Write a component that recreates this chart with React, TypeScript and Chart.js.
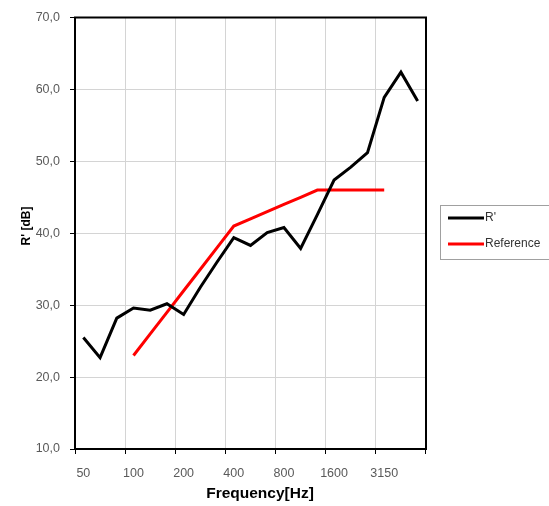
import React, { useEffect, useRef } from "react";
import { Chart, registerables } from "chart.js";

Chart.register(...registerables);

const frequencies = ["50", "63", "80", "100", "125", "160", "200", "250", "315", "400", "500", "630", "800", "1000", "1250", "1600", "2000", "2500", "3150", "4000", "5000"];
const measured = [25.5, 22.7, 28.2, 29.6, 29.3, 30.2, 28.7, 32.5, 36.0, 39.4, 38.3, 40.1, 40.8, 37.9, 42.6, 47.4, 49.2, 51.2, 58.9, 62.4, 58.4];
const reference = [null, null, null, 23, 26, 29, 32, 35, 38, 41, 42, 43, 44, 45, 46, 46, 46, 46, 46, null, null];
const seriesNames = ["R'", "Reference"];
const yTitle = "R' [dB]";
const xTitle = "Frequency[Hz]";

const LABEL_COLOR = "#5a5a5a";
const GRID_COLOR = "#d4d4d4";

const decorPlugin = {
  id: "decor",
  afterDraw(chart: any) {
    const { ctx, chartArea } = chart;
    ctx.save();
    // frame
    ctx.strokeStyle = "#000";
    ctx.lineWidth = 2;
    ctx.strokeRect(chartArea.left, chartArea.top, chartArea.right - chartArea.left, chartArea.bottom - chartArea.top);
    // titles
    ctx.fillStyle = "#000";
    ctx.font = "bold 15.5px 'Liberation Sans', Arial, sans-serif";
    ctx.textAlign = "center";
    ctx.textBaseline = "middle";
    ctx.fillText(xTitle, 260, 494);
    ctx.save();
    ctx.translate(27, 226);
    ctx.rotate(-Math.PI / 2);
    ctx.font = "bold 12px 'Liberation Sans', Arial, sans-serif";
    ctx.fillText(yTitle, 0, 0);
    ctx.restore();
    // legend
    ctx.strokeStyle = "#a0a0a0";
    ctx.lineWidth = 1;
    ctx.strokeRect(440.5, 205.5, 130, 54);
    const rows = [218, 244];
    chart.data.datasets.forEach((ds: any, i: number) => {
      ctx.strokeStyle = ds.borderColor;
      ctx.lineWidth = 3;
      ctx.beginPath();
      ctx.moveTo(448, rows[i]);
      ctx.lineTo(484, rows[i]);
      ctx.stroke();
      ctx.fillStyle = "#333";
      ctx.font = "12px 'Liberation Sans', Arial, sans-serif";
      ctx.textAlign = "left";
      ctx.textBaseline = "middle";
      ctx.fillText(ds.label, 485, rows[i]);
    });
    ctx.restore();
  },
};

export default function App() {
  const ref = useRef<HTMLCanvasElement | null>(null);
  useEffect(() => {
    if (!ref.current) return;
    const chart = new Chart(ref.current, {
      type: "line",
      data: {
        labels: frequencies,
        datasets: [
          { label: seriesNames[0], data: measured, borderColor: "#000000", borderWidth: 3, pointRadius: 0, tension: 0 },
          { label: seriesNames[1], data: reference as any, borderColor: "#ff0000", borderWidth: 3, pointRadius: 0, tension: 0, spanGaps: false },
        ],
      },
      options: {
        animation: false,
        responsive: true,
        maintainAspectRatio: false,
        layout: { padding: { top: 11, right: 123, left: 0, bottom: 0 } },
        plugins: { legend: { display: false }, tooltip: { enabled: false } },
        scales: {
          x: {
            type: "category",
            offset: true,
            afterFit: (s: any) => { s.height = 57; },
            border: { display: false },
            grid: {
              offset: true,
              tickLength: 5,
              color: (c: any) => (c.index === undefined || c.index % 3 === 0 ? GRID_COLOR : "rgba(0,0,0,0)"),
              tickColor: (c: any) => (c.index === undefined || c.index % 3 === 0 ? "#000" : "rgba(0,0,0,0)"),
            },
            ticks: {
              autoSkip: false,
              maxRotation: 0,
              minRotation: 0,
              padding: 12,
              color: LABEL_COLOR,
              font: { family: "'Liberation Sans', Arial, sans-serif", size: 12.5 },
              callback: (v: any, i: number) => (i % 3 === 0 ? frequencies[i] : ""),
            },
          },
          y: {
            min: 10,
            max: 70,
            afterFit: (s: any) => { s.width = 75; },
            border: { display: false },
            grid: { color: GRID_COLOR, tickColor: "#000", tickLength: 5 },
            ticks: {
              stepSize: 10,
              padding: 10,
              color: LABEL_COLOR,
              font: { family: "'Liberation Sans', Arial, sans-serif", size: 12.5 },
              callback: (v: any) => Number(v).toFixed(1).replace(".", ","),
            },
          },
        },
      },
      plugins: [decorPlugin],
    });
    return () => chart.destroy();
  }, []);
  return (
    <div style={{ position: "fixed", left: 0, top: 0, width: 549, height: 506, background: "#fff" }}>
      <canvas ref={ref} />
    </div>
  );
}
